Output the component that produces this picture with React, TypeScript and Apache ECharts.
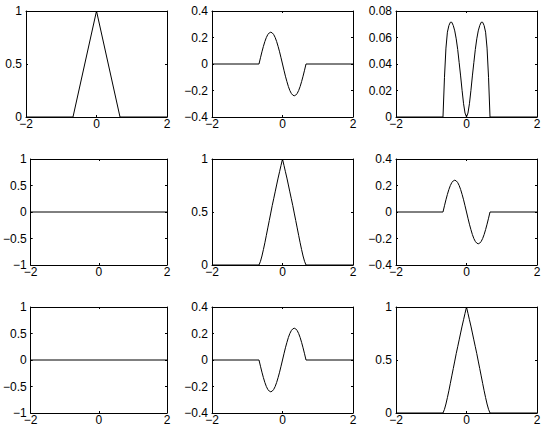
import React, { useEffect, useRef } from "react";
import * as echarts from "echarts";

// shared x sample points
const xs = [
  -2, -0.6667, -0.625, -0.5833, -0.5417, -0.5, -0.4583, -0.4167, -0.375, -0.3333, -0.2917, -0.25,
  -0.2083, -0.1667, -0.125, -0.0833, -0.0417, 0, 0.0417, 0.0833, 0.125, 0.1667, 0.2083, 0.25,
  0.2917, 0.3333, 0.375, 0.4167, 0.4583, 0.5, 0.5417, 0.5833, 0.625, 0.6667, 2,
];

// hat (triangle) function
const hatX = [-2, -0.6667, 0, 0.6667, 2];
const hatY = [0, 0, 1, 0, 0];

// odd wave (positive hump first)
const waveUp = [
  0, 0, 0.047, 0.092, 0.133, 0.17, 0.2, 0.222, 0.235, 0.24, 0.235, 0.222, 0.2, 0.17, 0.133, 0.092,
  0.047, 0, -0.047, -0.092, -0.133, -0.17, -0.2, -0.222, -0.235, -0.24, -0.235, -0.222, -0.2, -0.17,
  -0.133, -0.092, -0.047, 0, 0,
];

// odd wave (negative hump first)
const waveDown = [
  0, 0, -0.047, -0.092, -0.133, -0.17, -0.2, -0.222, -0.235, -0.24, -0.235, -0.222, -0.2, -0.17,
  -0.133, -0.092, -0.047, 0, 0.047, 0.092, 0.133, 0.17, 0.2, 0.222, 0.235, 0.24, 0.235, 0.222, 0.2,
  0.17, 0.133, 0.092, 0.047, 0, 0,
];

// double hump
const doubleHump = [
  0, 0, 0.03, 0.052, 0.064, 0.069, 0.0715, 0.0715, 0.069, 0.065, 0.059, 0.051, 0.041, 0.031, 0.02,
  0.01, 0.003, 0, 0.003, 0.01, 0.02, 0.031, 0.041, 0.051, 0.059, 0.065, 0.069, 0.0715, 0.0715, 0.069,
  0.064, 0.052, 0.03, 0, 0,
];

// bell-like peak
const bell = [
  0, 0, 0.035, 0.085, 0.145, 0.21, 0.28, 0.35, 0.42, 0.49, 0.56, 0.625, 0.69, 0.755, 0.82, 0.88,
  0.94, 1, 0.94, 0.88, 0.82, 0.755, 0.69, 0.625, 0.56, 0.49, 0.42, 0.35, 0.28, 0.21, 0.145, 0.085,
  0.035, 0, 0,
];

// flat zero line
const zeroX = [-2, 2];
const zeroY = [0, 0];

// tick definitions: [min, max, interval]
const xRange = [-2, 2, 2];
const yRangeUnit = [0, 1, 0.5];
const yRangeWave = [-0.4, 0.4, 0.2];
const yRangeSmall = [0, 0.08, 0.02];
const yRangeSym = [-1, 1, 0.5];

type Panel = { x: number[]; y: number[]; yr: number[] };

const panels: Panel[] = [
  { x: hatX, y: hatY, yr: yRangeUnit },
  { x: xs, y: waveUp, yr: yRangeWave },
  { x: xs, y: doubleHump, yr: yRangeSmall },
  { x: zeroX, y: zeroY, yr: yRangeSym },
  { x: xs, y: bell, yr: yRangeUnit },
  { x: xs, y: waveUp, yr: yRangeWave },
  { x: zeroX, y: zeroY, yr: yRangeSym },
  { x: xs, y: waveDown, yr: yRangeWave },
  { x: xs, y: bell, yr: yRangeUnit },
];

const colLefts = [26, 212, 396];
const rowTops = [11, 159, 307];
const cellW = 141;
const cellH = 106;

const FONT = "'Liberation Sans', Arial, Helvetica, sans-serif";

const fmt = (v: number) => {
  const s = String(Number(v.toFixed(4)));
  return s.replace("-", "\u2212");
};

export default function App() {
  const ref = useRef<HTMLDivElement>(null);
  useEffect(() => {
    if (!ref.current) return;
    const chart = echarts.init(ref.current, undefined, { renderer: "svg" });
    const grids: any[] = [];
    const xAxes: any[] = [];
    const yAxes: any[] = [];
    const series: any[] = [];
    panels.forEach((p, i) => {
      const r = Math.floor(i / 3);
      const c = i % 3;
      grids.push({ left: colLefts[c], top: rowTops[r], width: cellW, height: cellH, containLabel: false });
      const common = {
        type: "value",
        gridIndex: i,
        axisLine: { show: true, onZero: false, lineStyle: { color: "#000", width: 1 } },
        axisTick: { show: true, inside: true, length: 2, lineStyle: { color: "#000", width: 1 } },
        splitLine: { show: false },
      };
      const xa = {
        ...common,
        min: xRange[0],
        max: xRange[1],
        interval: xRange[2],
      };
      xAxes.push({
        ...xa,
        position: "bottom",
        axisLabel: { color: "#000", fontSize: 12, fontFamily: FONT, margin: 1, formatter: fmt },
      });
      xAxes.push({ ...xa, position: "top", axisLabel: { show: false } });
      const ya = {
        ...common,
        min: p.yr[0],
        max: p.yr[1],
        interval: p.yr[2],
      };
      yAxes.push({
        ...ya,
        position: "left",
        axisLabel: { color: "#000", fontSize: 12, fontFamily: FONT, margin: 4, formatter: fmt },
      });
      yAxes.push({ ...ya, position: "right", axisLabel: { show: false } });
      series.push({
        type: "line",
        xAxisIndex: i * 2,
        yAxisIndex: i * 2,
        data: p.x.map((x, k) => [x, p.y[k]]),
        showSymbol: false,
        symbol: "none",
        lineStyle: { color: "#000", width: 1 },
        silent: true,
        clip: false,
      });
    });
    chart.setOption({
      animation: false,
      backgroundColor: "#fff",
      grid: grids,
      xAxis: xAxes,
      yAxis: yAxes,
      series,
    });
    return () => chart.dispose();
  }, []);
  return (
    <div
      ref={ref}
      style={{ position: "fixed", left: 0, top: 0, width: 545, height: 428, background: "#fff" }}
    />
  );
}
